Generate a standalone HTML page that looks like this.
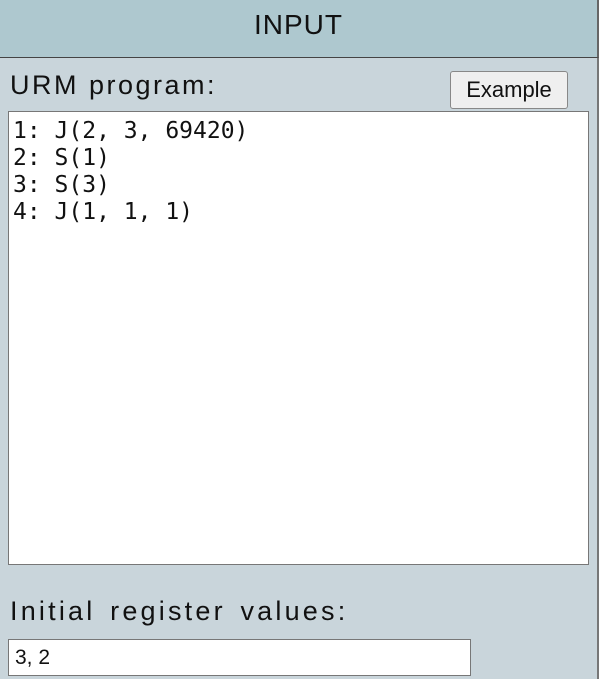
<!DOCTYPE html>
<html><head><meta charset="utf-8"><style>
body{margin:0;width:599px;height:679px;overflow:hidden;background:#c9d5db;font-family:"Liberation Sans",sans-serif;position:relative}
.hdr{position:absolute;left:0;top:0;width:597px;height:57px;background:#aec8cf;border-bottom:1px solid #444;border-right:2px solid #666}
.hdr span{position:absolute;left:0;right:0;top:9px;text-align:center;font-size:28px;letter-spacing:1px;color:#111}
.rb{position:absolute;left:597px;top:58px;width:2px;height:621px;background:#777}
.lbl{position:absolute;left:10px;font-size:27px;color:#111;font-weight:300;white-space:nowrap}
.btn{position:absolute;left:450px;top:71px;width:116px;height:36px;border:1px solid #888;border-radius:3px;background:#efefef;font-size:22px;text-align:center;line-height:36px;color:#111}
.ta{position:absolute;left:8px;top:111px;width:581px;height:454px;background:#fff;border:1px solid #777;font-family:"DejaVu Sans Mono",monospace;font-size:23px;line-height:27px;padding:6px 4px;box-sizing:border-box;white-space:pre;color:#111}
.inp{position:absolute;left:8px;top:639px;width:463px;height:37px;background:#fff;border:1px solid #777;font-size:21px;line-height:36px;padding-left:6px;box-sizing:border-box;color:#111}
</style></head><body>
<div class="hdr"><span>INPUT</span></div>
<div class="rb"></div>
<div class="lbl" style="top:70px;letter-spacing:2.5px">URM program:</div>
<div class="btn">Example</div>
<div class="ta">1: J(2, 3, 69420)
2: S(1)
3: S(3)
4: J(1, 1, 1)</div>
<div class="lbl" style="top:596px;letter-spacing:3.2px;word-spacing:4px">Initial register values:</div>
<div class="inp">3, 2</div>
</body></html>
